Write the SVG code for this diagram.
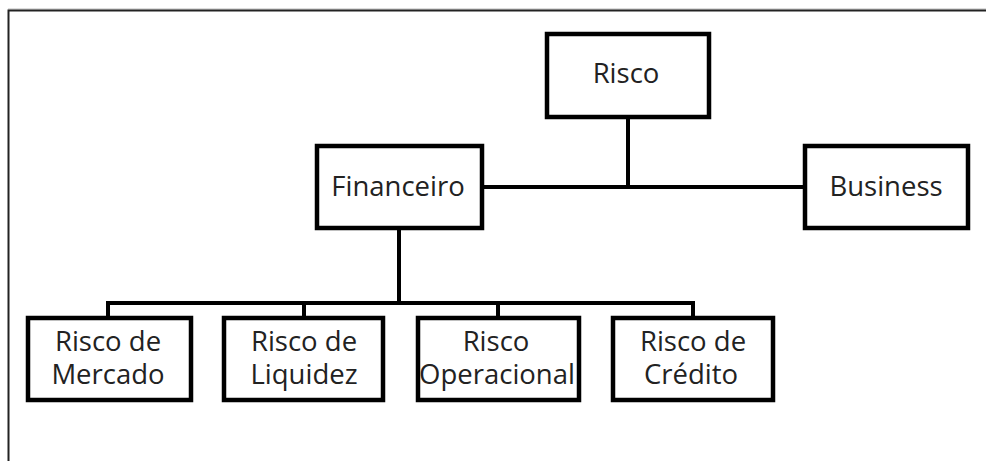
<svg xmlns="http://www.w3.org/2000/svg" width="986" height="461" viewBox="0 0 986 461">
<style>
.box{fill:#fff;stroke:#000;stroke-width:4.5}
.con{stroke:#000;stroke-width:4;fill:none}
text{font-family:"Open Sans","Liberation Sans",sans-serif;font-size:27.5px;fill:#222;text-anchor:middle}
</style>
<rect width="986" height="461" fill="#fff"/>
<g id="frame">
<line x1="8" y1="9" x2="986" y2="9" stroke="#bbb" stroke-width="1"/>
<path d="M8.5 461V10.5H986" fill="none" stroke="#222" stroke-width="2"/>
</g>
<g id="connectors">
<line class="con" x1="628" y1="117" x2="628" y2="187"/>
<line class="con" x1="482" y1="187" x2="805" y2="187"/>
<line class="con" x1="399" y1="228" x2="399" y2="303"/>
<polyline class="con" points="108,317 108,303 693,303 693,317"/>
<line class="con" x1="304" y1="303" x2="304" y2="317"/>
<line class="con" x1="498" y1="303" x2="498" y2="317"/>
</g>
<g id="risco">
<rect class="box" x="547" y="34" width="162" height="83"/>
<text x="626" y="83">Risco</text>
</g>
<g id="financeiro">
<rect class="box" x="317" y="146" width="165" height="82"/>
<text x="398" y="196">Financeiro</text>
</g>
<g id="business">
<rect class="box" x="805" y="146" width="163" height="82"/>
<text x="886" y="196">Business</text>
</g>
<g id="mercado">
<rect class="box" x="28" y="318" width="163" height="82"/>
<text x="108" y="351">Risco de</text>
<text x="108" y="384">Mercado</text>
</g>
<g id="liquidez">
<rect class="box" x="224" y="318" width="159" height="82"/>
<text x="304" y="351">Risco de</text>
<text x="304" y="384">Liquidez</text>
</g>
<g id="operacional">
<rect class="box" x="418" y="318" width="161" height="82"/>
<text x="496" y="351">Risco</text>
<text x="497" y="384">Operacional</text>
</g>
<g id="credito">
<rect class="box" x="613" y="318" width="160" height="82"/>
<text x="693" y="351">Risco de</text>
<text x="691" y="384">Crédito</text>
</g>
</svg>
